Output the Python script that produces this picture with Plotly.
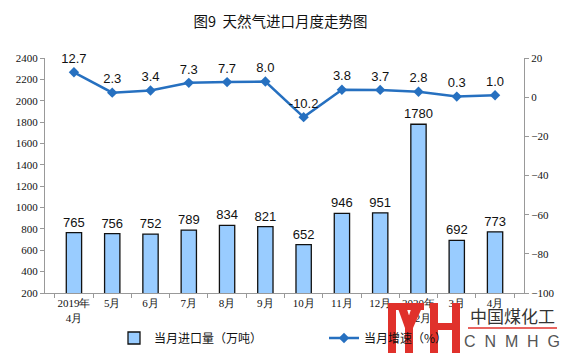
import plotly.graph_objects as go

months = ["2019年<br>4月", "5月", "6月", "7月", "8月", "9月", "10月", "11月", "12月", "2020年<br>1-2月", "3月", "4月"]
imports = [765, 756, 752, 789, 834, 821, 652, 946, 951, 1780, 692, 773]
growth = [12.7, 2.3, 3.4, 7.3, 7.7, 8.0, -10.2, 3.8, 3.7, 2.8, 0.3, 1.0]
growth_labels = [f"{v:.1f}" for v in growth]

W, H = 561, 357
L, R, T, B = 45, 524, 58, 293

def px(x):
    return (x - L) / (R - L)

def py(y):
    return (B - y) / (B - T)

fig = go.Figure()
fig.add_trace(go.Bar(
    x=months, y=imports, name="当月进口量（万吨）",
    marker=dict(color="#99CCFF", line=dict(color="#111111", width=1.3)),
    width=0.4, text=[str(v) for v in imports], textposition="outside",
    constraintext="none",
    textfont=dict(family="Liberation Sans, Arial", size=13, color="#111111"),
    cliponaxis=False, yaxis="y",
))
fig.add_trace(go.Scatter(
    x=months, y=growth, name="当月增速（%）", mode="lines+markers+text",
    line=dict(color="#2670C0", width=2.5),
    marker=dict(symbol="diamond", size=8, color="#2670C0"),
    text=growth_labels, textposition="top center",
    textfont=dict(family="Liberation Sans, Arial", size=13, color="#111111"),
    cliponaxis=False, yaxis="y2",
))

tickfont = dict(family="Liberation Serif, Times New Roman, serif", size=11, color="#111111")

# watermark logo shapes (decoration)
red = "#E0312B"
shapes = []
def rect(x0, y0, x1, y1):
    shapes.append(dict(type="rect", xref="paper", yref="paper",
                       x0=px(x0), x1=px(x1), y0=py(y1), y1=py(y0),
                       fillcolor=red, line=dict(width=0), layer="above"))
rect(388, 303, 396, 353)
rect(388, 303, 424, 310)
rect(405, 326, 413, 353)
shapes.append(dict(type="path", xref="paper", yref="paper", layer="above",
                   path=f"M {px(413)} {py(303)} L {px(424)} {py(303)} L {px(413)} {py(328)} L {px(405)} {py(328)} Z",
                   fillcolor=red, line=dict(width=0)))
shapes.append(dict(type="path", xref="paper", yref="paper", layer="above",
                   path=f"M {px(396)} {py(303)} L {px(405)} {py(303)} L {px(413)} {py(328)} L {px(405)} {py(328)} Z",
                   fillcolor=red, line=dict(width=0)))
rect(430, 303, 438, 353)
rect(452, 303, 460, 353)
rect(430, 323, 460, 330)
shapes.append(dict(type="line", xref="paper", yref="paper", layer="above",
                   x0=px(468), x1=px(557), y0=py(328), y1=py(328),
                   line=dict(color=red, width=1.5)))

fig.update_layout(
    width=W, height=H,
    margin=dict(l=L, r=W - R, t=T, b=H - B, autoexpand=False),
    paper_bgcolor="white", plot_bgcolor="white",
    title=dict(text="图9  天然气进口月度走势图", x=0.5, xanchor="center", y=1 - 22 / H, yanchor="middle",
               font=dict(family="Noto Sans CJK SC", size=14.5, color="#111111")),
    xaxis=dict(showline=True, linecolor="#999999", linewidth=1, ticks="outside",
               tickcolor="#999999", ticklen=4, tickson="boundaries", tickangle=0,
               tickfont=tickfont, showgrid=False, automargin=False),
    yaxis=dict(range=[200, 2400], dtick=200, showline=True, linecolor="#999999",
               ticks="outside", tickcolor="#999999", ticklen=4, showgrid=False,
               tickfont=tickfont, zeroline=False, automargin=False),
    yaxis2=dict(range=[-100, 20], dtick=20, overlaying="y", side="right",
                showline=True, linecolor="#999999", ticks="outside", tickcolor="#999999",
                ticklen=4, showgrid=False, tickfont=tickfont, zeroline=False, automargin=False),
    legend=dict(orientation="h", x=px(114), xanchor="left", y=-(338 - B) / (B - T), yanchor="middle",
                font=dict(family="Noto Sans CJK SC", size=12, color="#111111"),
                bgcolor="rgba(0,0,0,0)",
                entrywidth=165, entrywidthmode="pixels"),
    bargap=0.6,
    shapes=shapes,
    annotations=[
        dict(text="中国煤化工", xref="paper", yref="paper", x=px(512), y=py(315),
             xanchor="center", yanchor="middle",
             showarrow=False, font=dict(family="Noto Sans CJK SC", size=17, color="#333333")),
        dict(text="C  N  M  H  G", xref="paper", yref="paper", x=px(512), y=py(341),
             xanchor="center", yanchor="middle",
             showarrow=False, font=dict(family="Liberation Sans", size=16, color="#555555")),
    ],
)

fig.write_html("out.html")
